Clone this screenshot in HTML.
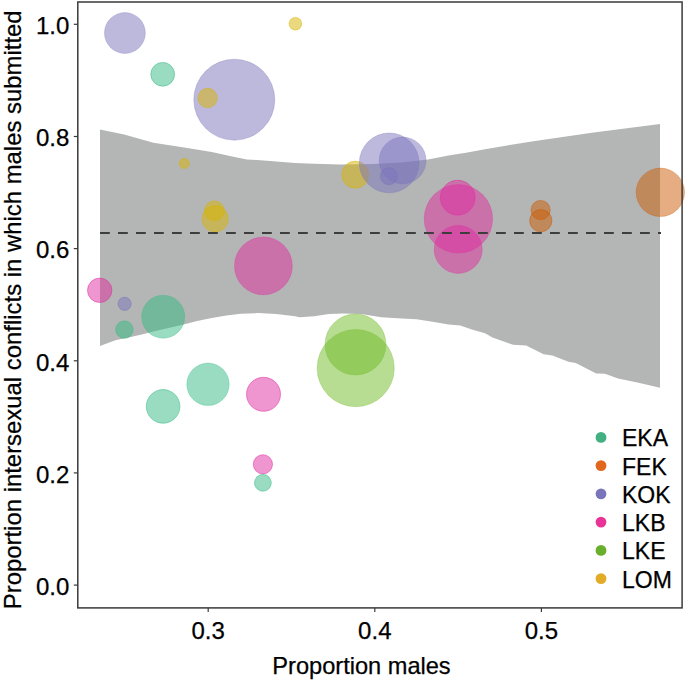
<!DOCTYPE html>
<html><head><meta charset="utf-8"><title>Proportion intersexual conflicts</title>
<style>html,body{margin:0;padding:0;background:#fff;}body{width:685px;height:681px;overflow:hidden;}svg{display:block;}text{font-family:"Liberation Sans",sans-serif;fill:#000;stroke:#000;stroke-width:0.25px;}</style></head><body>
<svg width="685" height="681" viewBox="0 0 685 681">
<rect x="0" y="0" width="685" height="681" fill="#ffffff"/>
<path d="M100.0,129.6 L124.2,134.6 L153.4,142.8 L182.6,147.2 L211.8,152.1 L232.2,156.5 L246.8,159.4 L270.2,160.9 L295.0,162.9 L314.2,163.8 L340.5,164.4 L372.6,164.0 L401.8,162.6 L428.0,159.4 L448.5,155.6 L466.0,152.7 L485.0,149.2 L504.2,145.9 L533.4,141.2 L562.6,136.9 L591.8,132.8 L621.0,129.0 L660.0,124.0 L660.0,387.7 L638.5,382.8 L618.0,378.4 L604.9,373.7 L596.2,373.4 L575.7,362.9 L568.4,361.8 L552.4,355.6 L543.6,354.2 L526.1,345.4 L513.0,344.8 L492.5,337.5 L485.0,333.2 L471.9,329.4 L460.2,325.6 L448.5,324.5 L431.0,321.5 L416.4,319.2 L401.8,318.6 L381.4,317.2 L361.0,314.0 L343.4,313.4 L328.8,313.9 L314.2,316.3 L299.6,317.2 L295.0,316.3 L276.0,314.0 L258.5,313.1 L241.0,313.7 L226.4,315.5 L211.8,318.1 L197.2,321.0 L182.6,324.8 L153.4,331.5 L141.7,334.5 L133.0,336.5 L115.4,340.3 L100.0,346.1 Z" fill="#B4B6B5"/>
<g stroke-width="1">
<circle cx="124.9" cy="33.0" r="20.4" fill="rgba(121,115,187,0.50)" stroke="rgba(121,115,187,0.30)"/>
<circle cx="162.7" cy="74.3" r="11.9" fill="rgba(51,185,131,0.50)" stroke="rgba(51,185,131,0.50)"/>
<circle cx="234.3" cy="99.7" r="40.5" fill="rgba(121,115,187,0.50)" stroke="rgba(121,115,187,0.30)"/>
<circle cx="207.6" cy="98.0" r="9.7" fill="rgba(215,179,1,0.50)" stroke="rgba(215,179,1,0.50)"/>
<circle cx="295.4" cy="23.7" r="6.3" fill="rgba(215,179,1,0.50)" stroke="rgba(215,179,1,0.50)"/>
<circle cx="184.3" cy="163.5" r="5.0" fill="rgba(215,179,1,0.50)" stroke="rgba(215,179,1,0.50)"/>
<circle cx="214.4" cy="210.8" r="9.9" fill="rgba(215,179,1,0.50)" stroke="rgba(215,179,1,0.50)"/>
<circle cx="215.2" cy="218.8" r="13.1" fill="rgba(215,179,1,0.50)" stroke="rgba(215,179,1,0.50)"/>
<circle cx="263.4" cy="265.9" r="28.9" fill="rgba(223,43,159,0.50)" stroke="rgba(223,43,159,0.30)"/>
<circle cx="99.7" cy="290.3" r="12.2" fill="rgba(223,43,159,0.50)" stroke="rgba(223,43,159,0.50)"/>
<circle cx="124.6" cy="303.8" r="6.6" fill="rgba(121,115,187,0.50)" stroke="rgba(121,115,187,0.50)"/>
<circle cx="163.2" cy="316.7" r="21.5" fill="rgba(51,185,131,0.50)" stroke="rgba(51,185,131,0.30)"/>
<circle cx="124.4" cy="329.6" r="8.7" fill="rgba(51,185,131,0.50)" stroke="rgba(51,185,131,0.50)"/>
<circle cx="163.1" cy="406.4" r="16.8" fill="rgba(51,185,131,0.50)" stroke="rgba(51,185,131,0.50)"/>
<circle cx="208.0" cy="384.3" r="21.2" fill="rgba(51,185,131,0.50)" stroke="rgba(51,185,131,0.30)"/>
<circle cx="263.5" cy="394.3" r="17.0" fill="rgba(223,43,159,0.50)" stroke="rgba(223,43,159,0.50)"/>
<circle cx="262.9" cy="464.3" r="9.6" fill="rgba(223,43,159,0.50)" stroke="rgba(223,43,159,0.50)"/>
<circle cx="262.9" cy="482.8" r="8.4" fill="rgba(51,185,131,0.50)" stroke="rgba(51,185,131,0.50)"/>
<circle cx="355.5" cy="344.5" r="30.5" fill="rgba(111,187,37,0.50)" stroke="rgba(111,187,37,0.30)"/>
<circle cx="355.7" cy="368.1" r="38.6" fill="rgba(111,187,37,0.50)" stroke="rgba(111,187,37,0.30)"/>
<circle cx="355.2" cy="174.7" r="13.5" fill="rgba(215,179,1,0.50)" stroke="rgba(215,179,1,0.50)"/>
<circle cx="389.2" cy="162.9" r="29.9" fill="rgba(121,115,187,0.50)" stroke="rgba(121,115,187,0.30)"/>
<circle cx="402.6" cy="160.5" r="23.4" fill="rgba(121,115,187,0.50)" stroke="rgba(121,115,187,0.30)"/>
<circle cx="388.9" cy="176.2" r="8.5" fill="rgba(121,115,187,0.50)" stroke="rgba(121,115,187,0.50)"/>
<circle cx="457.7" cy="197.7" r="17.4" fill="rgba(223,43,159,0.50)" stroke="rgba(223,43,159,0.50)"/>
<circle cx="458.4" cy="218.8" r="34.2" fill="rgba(223,43,159,0.50)" stroke="rgba(223,43,159,0.30)"/>
<circle cx="458.2" cy="249.4" r="24.0" fill="rgba(223,43,159,0.50)" stroke="rgba(223,43,159,0.30)"/>
<circle cx="540.6" cy="210.0" r="9.6" fill="rgba(203,91,3,0.50)" stroke="rgba(203,91,3,0.50)"/>
<circle cx="540.8" cy="220.7" r="11.1" fill="rgba(203,91,3,0.50)" stroke="rgba(203,91,3,0.50)"/>
<circle cx="660.3" cy="192.3" r="24.2" fill="rgba(203,91,3,0.50)" stroke="rgba(203,91,3,0.30)"/>
</g>
<line x1="100" y1="233.0" x2="661.0" y2="233.0" stroke="#3d3d3d" stroke-width="2.2" stroke-dasharray="9.80 8.20"/>
<rect x="77.8" y="2.0" width="604.3" height="605.9" fill="none" stroke="#3a3a3a" stroke-width="1.5"/>
<g stroke="#3a3a3a" stroke-width="1.2">
<line x1="73.8" y1="585.1" x2="77.8" y2="585.1"/>
<line x1="73.8" y1="472.9" x2="77.8" y2="472.9"/>
<line x1="73.8" y1="360.8" x2="77.8" y2="360.8"/>
<line x1="73.8" y1="248.6" x2="77.8" y2="248.6"/>
<line x1="73.8" y1="136.5" x2="77.8" y2="136.5"/>
<line x1="73.8" y1="24.3" x2="77.8" y2="24.3"/>
<line x1="208.2" y1="607.9" x2="208.2" y2="612.0"/>
<line x1="374.8" y1="607.9" x2="374.8" y2="612.0"/>
<line x1="541.4" y1="607.9" x2="541.4" y2="612.0"/>
</g>
<g font-size="24.0" text-anchor="end">
<text x="69.3" y="594.9">0.0</text>
<text x="69.3" y="482.7">0.2</text>
<text x="69.3" y="370.6">0.4</text>
<text x="69.3" y="258.4">0.6</text>
<text x="69.3" y="146.3">0.8</text>
<text x="69.3" y="34.1">1.0</text>
</g>
<g font-size="24.0" text-anchor="middle">
<text x="208.2" y="638.8">0.3</text>
<text x="374.8" y="638.8">0.4</text>
<text x="541.4" y="638.8">0.5</text>
</g>
<text x="361.5" y="674.4" font-size="23.6" text-anchor="middle">Proportion males</text>
<text transform="translate(20.5,309.8) rotate(-90)" font-size="23.9" text-anchor="middle">Proportion intersexual conflicts in which males submitted</text>
<g font-size="23.0">
<circle cx="601.0" cy="437.4" r="5.4" fill="rgb(66,176,130)"/>
<text x="622.0" y="446.3">EKA</text>
<circle cx="601.0" cy="465.6" r="5.4" fill="rgb(225,102,30)"/>
<text x="622.0" y="474.6">FEK</text>
<circle cx="601.0" cy="493.9" r="5.4" fill="rgb(122,117,186)"/>
<text x="622.0" y="502.8">KOK</text>
<circle cx="601.0" cy="522.1" r="5.4" fill="rgb(232,52,150)"/>
<text x="622.0" y="531.1">LKB</text>
<circle cx="601.0" cy="550.4" r="5.4" fill="rgb(105,175,45)"/>
<text x="622.0" y="559.3">LKE</text>
<circle cx="601.0" cy="578.6" r="5.4" fill="rgb(226,172,38)"/>
<text x="622.0" y="587.6">LOM</text>
</g>
</svg></body></html>
